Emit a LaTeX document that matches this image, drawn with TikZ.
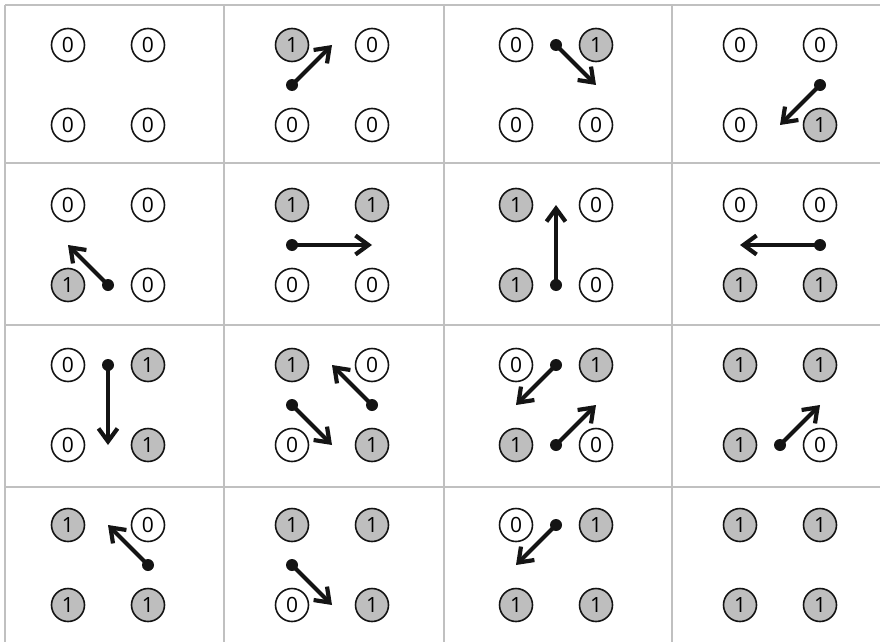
\documentclass[tikz,border=0pt]{standalone}
\usepackage{fontspec}
\setmainfont{Open Sans}
\usetikzlibrary{arrows.meta}
\definecolor{gridgray}{RGB}{192,192,192}
\definecolor{onefill}{RGB}{190,190,190}
\definecolor{ink}{RGB}{20,20,20}
\tikzset{
  bit/.style={circle, draw=ink, line width=1.6pt, minimum size=33pt, inner sep=0pt, font=\fontsize{21}{21}\selectfont},
  bit0/.style={bit, fill=white},
  bit1/.style={bit, fill=onefill},
  gridline/.style={draw=gridgray, line width=1.6pt},
  mover/.style={draw=ink, line width=4.2pt, -{Straight Barb[length=13pt, width=19pt, line width=4.2pt]}},
  dotmark/.style={fill=ink}
}
\begin{document}
\begin{tikzpicture}[x=1pt, y=-1pt]
\useasboundingbox (0,0) rectangle (880,642);
% grid
\foreach \gy in {5,163,325,487} \draw[gridline] (5,\gy) -- (880,\gy);
\foreach \gx in {5,224,444,672} \draw[gridline] (\gx,5) -- (\gx,642);
% circles: col/row/TL/TR/BL/BR
\foreach \c/\r/\p/\q/\u/\v in {
  0/0/0/0/0/0, 1/0/1/0/0/0, 2/0/0/1/0/0, 3/0/0/0/0/1,
  0/1/0/0/1/0, 1/1/1/1/0/0, 2/1/1/0/1/0, 3/1/0/0/1/1,
  0/2/0/1/0/1, 1/2/1/0/0/1, 2/2/0/1/1/0, 3/2/1/1/1/0,
  0/3/1/0/1/1, 1/3/1/1/0/1, 2/3/0/1/1/1, 3/3/1/1/1/1}
{
  \pgfmathsetmacro\X{68+224*\c}
  \pgfmathsetmacro\Y{45+160*\r}
  \node[bit\p] (n\c\r tl) at (\X,\Y) {\p};
  \node[bit\q] (n\c\r tr) at (\X+80,\Y) {\q};
  \node[bit\u] (n\c\r bl) at (\X,\Y+80) {\u};
  \node[bit\v] (n\c\r br) at (\X+80,\Y+80) {\v};
}
% arrows: start / end
\foreach \k/\sx/\sy/\tx/\ty in {
  a/292/85/332/45,
  b/556/45/596/85,
  c/820/85/780/125,
  d/108/285/68/245,
  e/292/245/372/245,
  f/556/285/556/205,
  g/820/245/740/245,
  h/108/365/108/445,
  i/292/405/332/445,
  j/372/405/332/365,
  k/556/365/516/405,
  l/556/445/596/405,
  m/780/445/820/405,
  n/148/565/108/525,
  o/292/565/332/605,
  p/556/525/516/565}
{
  \coordinate (s\k) at (\sx,\sy);
  \coordinate (t\k) at (\tx,\ty);
  \draw[mover] (s\k) -- (t\k);
  \fill[dotmark] (s\k) circle (6pt);
}
\end{tikzpicture}
\end{document}
